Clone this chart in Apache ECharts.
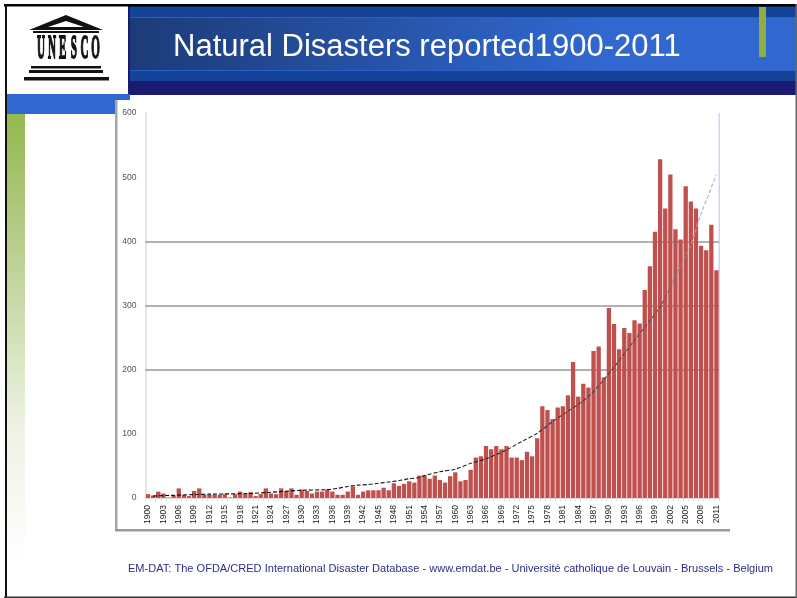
<!DOCTYPE html>
<html><head><meta charset="utf-8">
<style>html,body{margin:0;padding:0;background:#fff}#c{width:797px;height:598px}</style>
<script src="https://cdn.jsdelivr.net/npm/echarts@6/dist/echarts.min.js"></script>
</head><body><div id="c"></div>
<script>
const titleText = "Natural Disasters reported1900-2011";
const footerText = "EM-DAT: The OFDA/CRED International Disaster Database - www.emdat.be - Université catholique de Louvain - Brussels - Belgium";
const logoLetters = ["U","N","E","S","C","O"];
const firstYear = 1900;
const disasters = [
 6,4,10,7,1,4,15,5,3,11,15,5,5,5,5,6,1,6,10,6,9,3,6,15,7,6,
 15,11,15,5,13,11,7,10,10,13,10,5,5,10,18,5,10,12,12,12,16,12,23,19,22,26,24,35,
 35,30,35,28,24,34,40,26,28,44,63,65,81,76,81,76,81,63,63,59,72,65,93,143,137,123,141,143,
 160,212,158,178,172,229,236,188,296,271,232,265,257,277,272,324,361,415,528,451,504,419,403,486,462,451,393,386,426,355
];
const years = disasters.map((_, i) => String(firstYear + i));
const trendYears =  [1901,1904,1912,1920,1924,1930,1935,1937,1939,1941,1943,1945,1947,1949,1951,1953,1954,1957,1960,1963,1966,1970,1973,1976,1979,1981,1986,1991,1995,2000,2003,2006,2008,2011];
const trendValues = [3,4,6,7,9,12,13,15,18,20,21,23,25,27,30,32,35,41,45,54,61,75,88,101,119,130,158,204,246,298,345,395,443,504];
const gridValues = [200,300,400];

const trendData = years.map(y => { const k = trendYears.indexOf(+y); return k < 0 ? null : trendValues[k]; });

const g = [];
const rect = (x,y,w,h,fill,z) => g.push({type:'rect',shape:{x,y,width:w,height:h},style:{fill},z:z||0,silent:true});
const hGrad = (stops) => new echarts.graphic.LinearGradient(0,0,1,0,stops);
const vGrad = (stops) => new echarts.graphic.LinearGradient(0,0,0,1,stops);
// slide frame and header
rect(130,6,667,12,'#15439a');
rect(130,17,667,1,'#2a5ec8');
rect(130,18,667,52,hGrad([{offset:0,color:'#1c3b78'},{offset:0.7,color:'#3068d0'},{offset:1,color:'#3068d0'}]));
rect(130,70,667,1,'#2a5ec8');
rect(130,71,667,10,'#15439a');
rect(130,81,667,14,'#1a1a70');
rect(7,94,123,6,'#3168d0');
rect(7,100,108,14,'#3168d0');
rect(7,114,18,450,vGrad([{offset:0,color:'#94b74f'},{offset:0.25,color:'#b3cb85'},{offset:0.7,color:'#eef3e4'},{offset:1,color:'#ffffff'}]));
rect(759,7,7,50,'#8fae42');
rect(128,6,2,88,'#1a1a70');
rect(4,4,793,2.5,'#000000');
rect(5,4,2,594,'#111111');
rect(4,596.5,793,1.5,'#333333');
rect(795.5,4,1.5,594,'#666666');
// picture frame of the chart
rect(115,100,2.5,431,'#a6a6a6');
rect(115,529,615,2.5,'#999999');
rect(718.5,113,1.5,385,'#c6d9f1');
// UNESCO logo
g.push({type:'polygon',shape:{points:[[66,15],[103,30],[29,30]]},style:{fill:'#111'},z:2,silent:true});
g.push({type:'polygon',shape:{points:[[66,21],[84,27],[48,27]]},style:{fill:'#fff'},z:2,silent:true});
rect(33,31,66,2,'#111',2);
rect(31,66,70,2.5,'#111',2);
rect(29,70,74,3,'#111',2);
rect(24,77,85,3.5,'#111',2);
logoLetters.forEach((ch,i) => g.push({type:'text',x:41+i*10.9,y:49.5,scaleX:0.85,scaleY:2.6,silent:true,z:2,
  style:{text:ch,fill:'#111',stroke:'#111',lineWidth:0.7,font:'bold 13px "Liberation Serif"',align:'center',verticalAlign:'middle'}}));
// footer
g.push({type:'text',x:128,y:569,silent:true,z:3,style:{text:footerText,fill:'#2e2e86',font:'11.05px "Liberation Sans"',verticalAlign:'middle'}});

const chart = echarts.init(document.getElementById('c'),null,{renderer:'canvas'});
chart.setOption({
  animation:false,
  backgroundColor:'#ffffff',
  title:{text:titleText,left:173,top:30,padding:0,textStyle:{color:'#ffffff',fontFamily:'Liberation Sans',fontWeight:'normal',fontSize:31,lineHeight:34},z:10},
  graphic:{elements:g},
  grid:{left:145.5,right:797-719,top:113,bottom:598-498,containLabel:false},
  xAxis:{type:'category',data:years,boundaryGap:true,
    axisLine:{show:true,lineStyle:{color:'#dddddd',width:1}},
    axisTick:{show:true,alignWithLabel:false,interval:0,length:3,lineStyle:{color:'#dddddd'}},
    axisLabel:{interval:2,rotate:90,fontSize:8.5,color:'#222222',fontFamily:'Liberation Sans',margin:7,hideOverlap:false},
    splitLine:{show:false}},
  yAxis:{type:'value',min:0,max:600,interval:100,
    axisLine:{show:true,lineStyle:{color:'#dddddd',width:1.5}},
    axisTick:{show:false},
    axisLabel:{fontSize:8.5,color:'#555555',fontFamily:'Liberation Sans',margin:9},
    splitLine:{show:false}},
  series:[
    {type:'bar',data:disasters,barWidth:'84%',itemStyle:{color:'#c0504d'},z:3,
     markLine:{silent:true,symbol:'none',label:{show:false},z:1,
       lineStyle:{color:'#999999',width:1.5,type:'solid'},
       data:gridValues.map(v=>({yAxis:v}))}},
    {type:'line',data:trendData,connectNulls:true,smooth:0.3,showSymbol:false,symbol:'none',z:5,
     lineStyle:{width:1.1,type:[4,2],color:new echarts.graphic.LinearGradient(0,0,1,0,[
       {offset:0,color:'#000000'},{offset:0.6,color:'#222222'},{offset:0.9,color:'#555555'},{offset:0.96,color:'#aaaaaa'},{offset:1,color:'#bbbbbb'}])}}
  ]
});
</script></body></html>
